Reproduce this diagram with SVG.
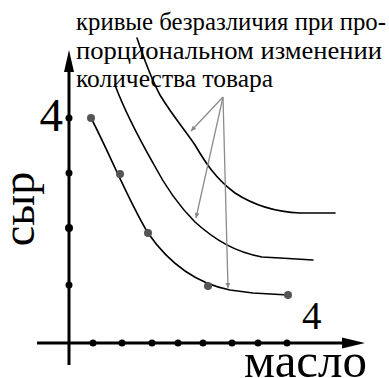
<svg xmlns="http://www.w3.org/2000/svg" width="389" height="378" viewBox="0 0 389 378">
<defs>
<marker id="gh" viewBox="0 0 10 10" refX="10" refY="5" markerWidth="9" markerHeight="5" markerUnits="userSpaceOnUse" orient="auto"><path d="M0,0 L10,5 L0,10 Z" fill="#888"/></marker>
</defs>
<style>
.ax{stroke:#000;stroke-width:3;fill:none}
.ah{fill:#000}
.cv{stroke:#000;stroke-width:1.6;fill:none;stroke-linejoin:round;stroke-linecap:round}
.gl{stroke:#8c8c8c;stroke-width:1.3;fill:none}
.tk{fill:#000}
.pt{fill:#555}
.t{font-family:"Liberation Serif","Times New Roman",serif;fill:#000}
</style>
<rect width="389" height="378" fill="#fff"/>
<g id="axes">
<line class="ax" x1="69" y1="365" x2="69" y2="66"/>
<polygon class="ah" points="69,50 74,72 64,72"/>
<line class="ax" x1="37" y1="343" x2="348" y2="343"/>
<polygon class="ah" points="365,343 342,337.5 342,348.5"/>
</g>
<g id="ticks">
<circle class="tk" cx="69" cy="118" r="3.5"/>
<circle class="tk" cx="69" cy="173" r="3.5"/>
<circle class="tk" cx="69" cy="228" r="4"/>
<circle class="tk" cx="69" cy="285" r="3.5"/>
<circle class="tk" cx="93" cy="343" r="3.5"/>
<circle class="tk" cx="122" cy="343" r="3.5"/>
<circle class="tk" cx="152" cy="343" r="3.5"/>
<circle class="tk" cx="178" cy="343" r="3.5"/>
<circle class="tk" cx="203" cy="343" r="3.5"/>
<circle class="tk" cx="232" cy="343" r="3.5"/>
<circle class="tk" cx="258" cy="343" r="3.5"/>
<circle class="tk" cx="287" cy="343" r="3.5"/>
</g>
<g id="curve1">
<path class="cv" d="M91,118 C108,150 128,200 148,233 C168,262 195,283 230,290 L253,293 L288,295"/>
<circle class="pt" cx="91" cy="118" r="4"/>
<circle class="pt" cx="120" cy="174" r="4"/>
<circle class="pt" cx="148" cy="233" r="4"/>
<circle class="pt" cx="208" cy="286" r="4"/>
<circle class="pt" cx="288" cy="295" r="4"/>
</g>
<g id="curve2">
<path class="cv" d="M115,85 C125,112 140,140 153,163 C165,186 178,205 195,222 C215,240 235,252 262,257 L280,258 L313,260"/>
</g>
<g id="curve3">
<path class="cv" d="M137,38 C145,62 152,80 160,95 C172,115 185,130 195,145 C205,162 215,178 235,193 C255,206 275,212 300,213 L335,213"/>
</g>
<g id="connectors">
<line class="gl" x1="223" y1="97" x2="191" y2="131" marker-end="url(#gh)"/>
<line class="gl" x1="223" y1="97" x2="196" y2="218" marker-end="url(#gh)"/>
<line class="gl" x1="223" y1="97" x2="228" y2="288" marker-end="url(#gh)"/>
</g>
<g id="labels">
<text class="t" x="76" y="30" font-size="25" textLength="310" lengthAdjust="spacingAndGlyphs">кривые безразличия при про-</text>
<text class="t" x="76" y="59" font-size="25" textLength="306" lengthAdjust="spacingAndGlyphs">порциональном изменении</text>
<text class="t" x="76" y="87" font-size="25" textLength="197" lengthAdjust="spacingAndGlyphs">количества товара</text>
<text class="t" x="63" y="131" font-size="47" text-anchor="end">4</text>
<text class="t" x="302" y="329" font-size="39">4</text>
<text class="t" x="244" y="377" font-size="48" textLength="123" lengthAdjust="spacingAndGlyphs">масло</text>
<text class="t" transform="translate(34,209) rotate(-90)" font-size="46" text-anchor="middle">сыр</text>
</g>
</svg>
